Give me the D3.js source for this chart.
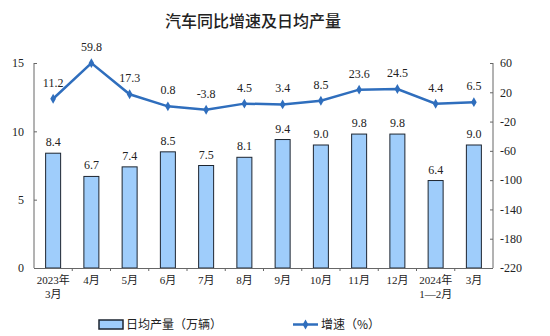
<!DOCTYPE html>
<html><head><meta charset="utf-8">
<script src="https://cdn.jsdelivr.net/npm/d3@7"></script>
<style>body{margin:0;background:#fff}svg{display:block}</style>
</head><body><svg id="c" width="550" height="336"></svg>
<script>
const categories = [["2023年","3月"],["4月"],["5月"],["6月"],["7月"],["8月"],["9月"],["10月"],["11月"],["12月"],["2024年","1—2月"],["3月"]];
const dailyOutput = [8.4,6.7,7.4,8.5,7.5,8.1,9.4,9.0,9.8,9.8,6.4,9.0];
const growth = [11.2,59.8,17.3,0.8,-3.8,4.5,3.4,8.5,23.6,24.5,4.4,6.5];
const leftTicks = [0,5,10,15];
const rightTicks = [60,20,-20,-60,-100,-140,-180,-220];

const svg = d3.select("#c");
const font = "'Liberation Serif','Noto Sans CJK SC',serif";
const L = 34, R = 493, T = 63, B = 268;
const xb = d3.scaleBand().domain(d3.range(categories.length)).range([L,R]);
const yL = d3.scaleLinear().domain([0,15]).range([B,T]);
const yR = d3.scaleLinear().domain([-220,60]).range([B,T]);
const lineColor = "#2f6ebd";

svg.append("text").attr("x",253).attr("y",27).attr("text-anchor","middle")
  .attr("font-family","'Noto Sans CJK SC',sans-serif").attr("font-size",16).attr("font-weight",500).attr("fill","#222")
  .text("汽车同比增速及日均产量");

// left axis
const gL = svg.append("g").attr("transform",`translate(${L},0)`)
  .call(d3.axisLeft(yL).tickValues(leftTicks).tickFormat(d=>String(d)).tickSize(-3).tickPadding(10));
// right axis
const gR = svg.append("g").attr("transform",`translate(${R},0)`)
  .call(d3.axisRight(yR).tickValues(rightTicks).tickFormat(d=>String(d)).tickSize(-3).tickPadding(7));
[gL,gR].forEach(g=>{
  g.select(".domain").attr("stroke","#666").attr("d", `M0,${T}V${B}`);
  g.selectAll(".tick line").attr("stroke","#666");
  g.selectAll("text").attr("font-family",font).attr("font-size",12).attr("fill","#222");
});

// bars
svg.append("g").selectAll("rect").data(dailyOutput).join("rect")
  .attr("x",(d,i)=>xb(i)+xb.bandwidth()/2-7.5).attr("width",15)
  .attr("y",d=>yL(d)).attr("height",d=>B-yL(d))
  .attr("fill","#9fcdfb").attr("stroke","#1d2530").attr("stroke-width",1);

// x axis
svg.append("line").attr("x1",L).attr("x2",R).attr("y1",B+0.5).attr("y2",B+0.5).attr("stroke","#666");
svg.append("g").selectAll("line").data(d3.range(1,categories.length)).join("line")
  .attr("x1",i=>xb(i)).attr("x2",i=>xb(i)).attr("y1",B).attr("y2",B+3).attr("stroke","#666");

// x labels
const xl = svg.append("g").selectAll("text").data(categories).join("text")
  .attr("x",(d,i)=>xb(i)+xb.bandwidth()/2).attr("y",284).attr("text-anchor","middle")
  .attr("font-family",font).attr("font-size",11).attr("fill","#222");
xl.each(function(d){
  const t=d3.select(this);
  d.forEach((s,j)=>t.append("tspan").attr("x",t.attr("x")).attr("dy",j?14:0).text(s));
});

// bar labels
svg.append("g").selectAll("text").data(dailyOutput).join("text")
  .attr("x",(d,i)=>xb(i)+xb.bandwidth()/2).attr("y",d=>yL(d)-7).attr("text-anchor","middle")
  .attr("font-family",font).attr("font-size",12).attr("fill","#222").text(d=>d.toFixed(1));

// line
const cx = i=>xb(i)+xb.bandwidth()/2;
svg.append("path").datum(growth).attr("fill","none").attr("stroke",lineColor).attr("stroke-width",2.5)
  .attr("d",d3.line().x((d,i)=>cx(i)).y(d=>yR(d)));
svg.append("g").selectAll("path").data(growth).join("path")
  .attr("transform",(d,i)=>`translate(${cx(i)},${yR(d)})`)
  .attr("d",d3.symbol(d3.symbolDiamond,28)).attr("fill",lineColor);
svg.append("g").selectAll("text").data(growth).join("text")
  .attr("x",(d,i)=>cx(i)).attr("y",d=>yR(d)-12).attr("text-anchor","middle")
  .attr("font-family",font).attr("font-size",12).attr("fill","#222").text(d=>d.toFixed(1));

// legend
const lg = svg.append("g");
lg.append("rect").attr("x",99).attr("y",320).attr("width",24).attr("height",9)
  .attr("fill","#9fcdfb").attr("stroke","#1d2530").attr("stroke-width",1.5);
lg.append("text").attr("x",126).attr("y",329).attr("font-family","'Noto Sans CJK SC',serif").attr("font-size",12).attr("fill","#222").text("日均产量（万辆）");
lg.append("line").attr("x1",293).attr("x2",318).attr("y1",324.5).attr("y2",324.5).attr("stroke",lineColor).attr("stroke-width",2.5);
lg.append("path").attr("transform","translate(305.5,324.5)").attr("d",d3.symbol(d3.symbolDiamond,28)).attr("fill",lineColor);
lg.append("text").attr("x",321).attr("y",329).attr("font-family","'Noto Sans CJK SC',serif").attr("font-size",12).attr("fill","#222").text("增速（%）");
</script></body></html>
